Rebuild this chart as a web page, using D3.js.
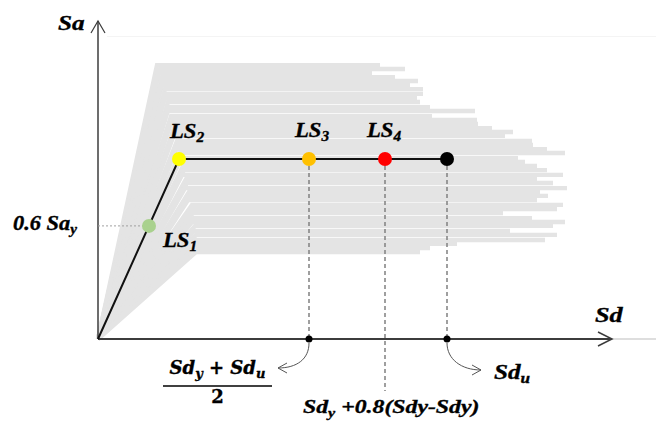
<!DOCTYPE html>
<html>
<head>
<meta charset="utf-8">
<script src="https://cdn.jsdelivr.net/npm/d3@7"></script>
<style>
  body { margin: 0; background: #fff; }
  svg { display: block; }
  text { font-family: "Liberation Serif", "Times New Roman", serif; font-weight: bold; font-style: italic; fill: #000; stroke: #000; stroke-width: 0.35px; }
</style>
</head>
<body>
<div id="chart"></div>
<script>
// Limit states on the idealised bilinear curve (Sd, Sa)
const stateNames = ['LS1', 'LS2', 'LS3', 'LS4', 'Sdu']
const stateSd = [10.2, 16.2, 42.2, 57.4, 69.8]
const stateSa = [37.7, 60, 60, 60, 60]
const stateColors = ['#a9d18e', '#ffff00', '#ffc000', '#ff0000', '#000000']

// Grey cloud of pushover curves: yield Sa, yield Sd, ultimate Sd
const cloudSa = [91.3, 90.0, 88.7, 87.3, 86.0, 84.7, 83.3, 81.7, 80.3, 79.0, 77.3, 76.0, 74.3, 73.0, 71.7,
  70.3, 69.0, 67.7, 66.0, 64.7, 63.3, 62.0, 60.3, 59.0, 57.7, 56.3, 54.7, 53.3, 52.0, 50.3,
  49.0, 47.7, 46.3, 44.7, 43.3, 42.0, 40.3, 39.0, 37.7, 36.0, 34.7, 33.0, 31.7, 30.3, 29.0]
const cloudSdy = [11.8, 12.4, 12.0, 12.8, 13.0, 12.6, 13.4, 13.6, 13.2, 14.0, 14.2, 13.8, 14.6, 14.8, 14.4,
  15.2, 15.4, 15.0, 15.8, 16.0, 15.6, 16.4, 16.6, 16.2, 17.0, 17.2, 16.8, 17.6, 17.8, 17.4,
  18.2, 18.4, 18.0, 18.8, 18.6, 19.0, 19.2, 18.8, 19.4, 19.2, 19.6, 19.4, 19.6, 19.2, 19.6]
const cloudSdu = [56.4, 61.4, 54.8, 59.4, 64.0, 62.4, 65.0, 65.0, 63.8, 64.4, 66.4, 75.4, 66.8, 75.8, 76.0,
  78.8, 83.0, 81.4, 86.8, 87.0, 89.8, 93.4, 84.0, 85.4, 87.8, 89.8, 93.0, 87.8, 91.0, 93.8,
  88.4, 90.0, 87.8, 93.0, 91.8, 81.0, 86.8, 93.4, 91.0, 82.4, 91.8, 89.4, 71.8, 66.4, 64.4]

// Axis extents
const axisEndSd = 102.8, axisEndSa = 106

let svgWidth = 656, svgHeight = 423

let svg = d3.select('#chart')
    .append('svg')
    .attr('width', svgWidth)
    .attr('height', svgHeight)

let x = d3.scaleLinear().domain([0, 110]).range([98, 648])
let y = d3.scaleLinear().domain([0, 105]).range([339, 24])

// faint line near the top
svg.append('line')
    .attr('x1', 107).attr('x2', svgWidth)
    .attr('y1', 36.5).attr('y2', 36.5)
    .attr('stroke', '#f4f4f4').attr('stroke-width', 1)

// Grey curves
let curve = d3.line().x(d => x(d[0])).y(d => y(d[1]))
let cloud = cloudSa.map((sa, i) => [[0, 0], [cloudSdy[i], sa], [cloudSdu[i], sa]])
svg.append('g')
    .selectAll('path')
    .data(cloud)
    .enter().append('path')
    .attr('d', curve)
    .attr('fill', 'none')
    .attr('stroke', '#e4e4e4')
    .attr('stroke-width', 4.4)
    .attr('stroke-linejoin', 'miter')

// Axes
let x0 = x(0), y0 = y(0)
svg.append('line')
    .attr('x1', x(axisEndSd)).attr('x2', svgWidth)
    .attr('y1', y0).attr('y2', y0)
    .attr('stroke', '#bdbdbd').attr('stroke-width', 1)
svg.append('line')
    .attr('x1', x0).attr('x2', x(axisEndSd))
    .attr('y1', y0).attr('y2', y0)
    .attr('stroke', '#3c3c3c').attr('stroke-width', 2)
svg.append('line')
    .attr('x1', x0).attr('x2', x0)
    .attr('y1', y0).attr('y2', y(axisEndSa))
    .attr('stroke', '#3c3c3c').attr('stroke-width', 1.5)

// open arrow heads
let xTip = x(axisEndSd), yTip = y(axisEndSa)
svg.append('path')
    .attr('d', `M${xTip - 14},${y0 - 7}L${xTip},${y0}L${xTip - 14},${y0 + 7}`)
    .attr('fill', 'none').attr('stroke', '#3c3c3c').attr('stroke-width', 1.5)
svg.append('path')
    .attr('d', `M${x0 - 7},${yTip + 12}L${x0},${yTip}L${x0 + 7},${yTip + 12}`)
    .attr('fill', 'none').attr('stroke', '#3c3c3c').attr('stroke-width', 1.2)

// Guide lines
svg.append('line')
    .attr('x1', x0).attr('x2', x(stateSd[0]))
    .attr('y1', y(stateSa[0])).attr('y2', y(stateSa[0]))
    .attr('stroke', '#a0a0a0').attr('stroke-width', 1).attr('stroke-dasharray', '2,2')
;[2, 4].forEach(i => {
    svg.append('line')
        .attr('x1', x(stateSd[i])).attr('x2', x(stateSd[i]))
        .attr('y1', y(stateSa[i])).attr('y2', y0)
        .attr('stroke', '#808080').attr('stroke-width', 1.5).attr('stroke-dasharray', '4,3')
})
svg.append('line')
    .attr('x1', x(stateSd[3])).attr('x2', x(stateSd[3]))
    .attr('y1', y(stateSa[3])).attr('y2', y0 + 52)
    .attr('stroke', '#808080').attr('stroke-width', 1.5).attr('stroke-dasharray', '4,3')

// Idealised curve
svg.append('path')
    .datum([[0, 0], [stateSd[1], stateSa[1]], [stateSd[4], stateSa[4]]])
    .attr('d', curve)
    .attr('fill', 'none')
    .attr('stroke', '#111')
    .attr('stroke-width', 2)

// Limit state points
svg.append('g')
    .selectAll('circle')
    .data(stateSd)
    .enter().append('circle')
    .attr('cx', d => x(d))
    .attr('cy', (d, i) => y(stateSa[i]))
    .attr('r', 7)
    .attr('fill', (d, i) => stateColors[i])

// dots on the Sd axis
;[2, 4].forEach(i => {
    svg.append('circle')
        .attr('cx', x(stateSd[i])).attr('cy', y0)
        .attr('r', 3.5).attr('fill', '#000')
})

// curved pointers
let p3 = x(stateSd[2]), pu = x(stateSd[4])
svg.append('path')
    .attr('d', `M${p3},${y0 + 4}C${p3},${y0 + 20} ${p3 - 12},${y0 + 29} ${p3 - 31},${y0 + 29}`)
    .attr('fill', 'none').attr('stroke', '#555').attr('stroke-width', 1)
svg.append('path')
    .attr('d', `M${p3 - 22},${y0 + 24}L${p3 - 31},${y0 + 29}L${p3 - 22},${y0 + 34}`)
    .attr('fill', 'none').attr('stroke', '#555').attr('stroke-width', 1)
svg.append('path')
    .attr('d', `M${pu},${y0 + 4}C${pu},${y0 + 20} ${pu + 14},${y0 + 31} ${pu + 34},${y0 + 31}`)
    .attr('fill', 'none').attr('stroke', '#555').attr('stroke-width', 1)
svg.append('path')
    .attr('d', `M${pu + 25},${y0 + 26}L${pu + 34},${y0 + 31}L${pu + 25},${y0 + 36}`)
    .attr('fill', 'none').attr('stroke', '#555').attr('stroke-width', 1)

// Labels with subscripts, stretched a little to match the wide bold italic face
let label = (tx, ty, main, sub, size, sx) => {
    let t = svg.append('text')
        .attr('transform', `translate(${tx},${ty}) scale(${sx},1)`)
        .attr('font-size', size)
    t.append('tspan').text(main)
    if (sub) t.append('tspan').attr('dy', 4).attr('font-size', size * 0.68).text(sub)
    return t
}

label(58, 30, 'Sa', null, 21, 1.2)
label(595, 322, 'Sd', null, 21, 1.25)
label(13, 230, '0.6 Sa', 'y', 20, 1.12)
label(163, 247, 'LS', '1', 21, 1.08)
label(170, 138, 'LS', '2', 21, 1.08)
label(295, 137, 'LS', '3', 21, 1.08)
label(367, 137, 'LS', '4', 21, 1.08)
label(494, 379, 'Sd', 'u', 21, 1.2)

// fraction (Sdy + Sdu) / 2
let fx = 217.5
let num = svg.append('text')
    .attr('x', fx).attr('y', 374)
    .attr('text-anchor', 'middle')
    .style('font-family', '"DejaVu Serif", serif')
    .attr('font-size', 18)
num.append('tspan').text('Sd')
num.append('tspan').attr('dy', 4).attr('font-size', 13).text('y')
num.append('tspan').attr('dy', -4).text(' + Sd')
num.append('tspan').attr('dy', 4).attr('font-size', 13).text('u')
svg.append('line')
    .attr('x1', 163).attr('x2', 272)
    .attr('y1', 386).attr('y2', 386)
    .attr('stroke', '#000').attr('stroke-width', 1.5)
svg.append('text')
    .attr('x', fx).attr('y', 403)
    .attr('text-anchor', 'middle')
    .style('font-family', '"DejaVu Serif", serif')
    .style('font-style', 'normal')
    .attr('font-size', 18)
    .text('2')

// LS4 expression
let ex = label(303, 413, 'Sd', 'y', 19, 1.25)
ex.append('tspan').attr('dy', -4).text(' +0.8(Sdy-Sdy)')
</script>
</body>
</html>
